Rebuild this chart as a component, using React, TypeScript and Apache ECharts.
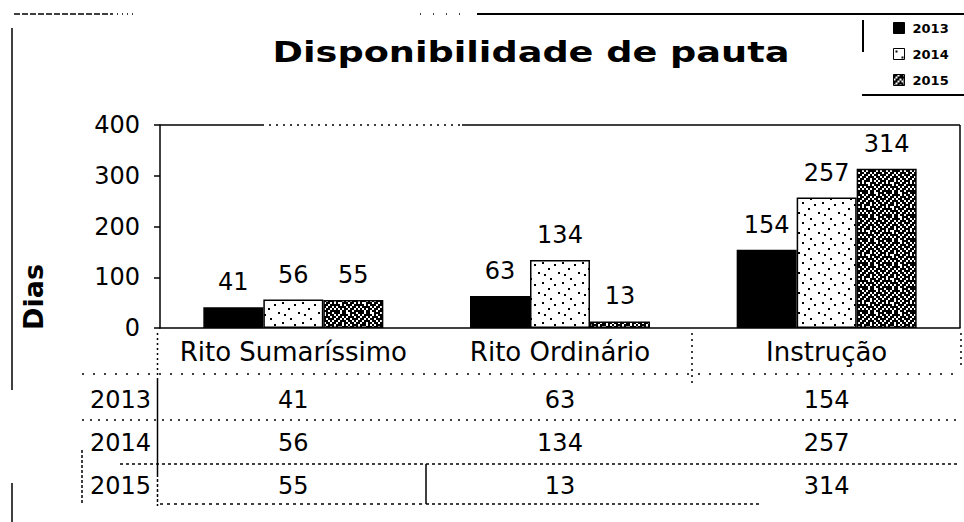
import React, { useEffect, useRef } from 'react';
import * as echarts from 'echarts';

const categories = ['Rito Sumaríssimo', 'Rito Ordinário', 'Instrução'];
const seriesNames = ['2013', '2014', '2015'];
const values2013 = [41, 63, 154];
const values2014 = [56, 134, 257];
const values2015 = [55, 13, 314];
const yTicks = [0, 100, 200, 300, 400];
const chartTitle = 'Disponibilidade de pauta';
const yAxisTitle = 'Dias';

const FONT = 'DejaVu Sans';

// texture tiles (style only)
const TILE_2014 = [
  '0000000000',
  '0100000000',
  '0000000100',
  '0000000000',
  '0000100000',
  '0000000000',
  '0000000001',
  '0010000000',
  '0000000000',
  '0000010000',
];
const TILE_2015 = [
  '110110011101',
  '101111010110',
  '011010111011',
  '110101101110',
  '101110110101',
  '011011011011',
  '111010101110',
  '100111011010',
  '110101110111',
  '011110101101',
  '101011011010',
  '110110110111',
];

function makeTile(rows: string[], cell: number) {
  const n = rows.length;
  const size = n * cell;
  const c = document.createElement('canvas');
  c.width = size;
  c.height = size;
  const ctx = c.getContext('2d') as CanvasRenderingContext2D;
  ctx.fillStyle = '#ffffff';
  ctx.fillRect(0, 0, size, size);
  ctx.fillStyle = '#000000';
  rows.forEach((r, y) =>
    r.split('').forEach((ch, x) => {
      if (ch === '1') ctx.fillRect(x * cell, y * cell, cell, cell);
    })
  );
  return { image: c.toDataURL(), repeat: 'repeat', imageWidth: size, imageHeight: size };
}

type Seg = [number, number, number, number, number[] | null, number?];

const decoLines: Seg[] = [
  // outer frame fragments
  [14, 14, 112, 14, [6, 2], 1.5],
  [112, 14, 136, 14, [1, 4], 1.5],
  [420, 14, 470, 14, [1, 12], 1.5],
  [477, 14, 964, 14, null, 2],
  [12, 28, 12, 390, null, 1.5],
  [12, 483, 12, 522, null, 1.5],
  // legend box
  [863, 20, 863, 52, null, 2],
  [862, 95, 964, 95, null, 2],
  // plot frame top / right
  [160, 125, 262, 125, null, 1.5],
  [262, 125, 462, 125, [2, 5], 1.5],
  [462, 125, 960, 125, null, 1.5],
  [960, 125, 960, 328, null, 1.5],
  // data table
  [82, 374, 960, 374, [2, 9], 1.5],
  [82, 420, 960, 420, [2, 6], 1.5],
  [120, 464, 960, 464, [3, 3], 1.5],
  [160, 504, 426, 504, [3, 4], 1.5],
  [426, 504, 760, 504, [3, 3], 1.5],
  [157.5, 333, 157.5, 378, [2, 3], 1.5],
  [157.5, 378, 157.5, 474, null, 1.5],
  [157.5, 474, 157.5, 506, [3, 2], 1.5],
  [82, 450, 82, 505, [3, 2], 1.5],
  [426, 464, 426, 504, null, 1.5],
  [692, 333, 692, 386, [2, 4], 1.5],
  [961, 333, 961, 366, [2, 4], 1.5],
];

export default function App() {
  const ref = useRef<HTMLDivElement>(null);

  useEffect(() => {
    if (!ref.current) return;
    const chart = echarts.init(ref.current, undefined, { renderer: 'svg' });

    const rows = [values2013, values2014, values2015];
    const colors: any[] = ['#000000', makeTile(TILE_2014, 2), makeTile(TILE_2015, 2)];
    const rowOffset0 = 72;
    const rowStep = 43;
    const plotBottom = 328;

    const graphics: any[] = [
      {
        type: 'text',
        x: 531,
        y: 53,
        scaleX: 1.31,
        style: {
          text: chartTitle,
          font: `bold 28px "${FONT}"`,
          fill: '#000',
          textAlign: 'center',
          textVerticalAlign: 'middle',
        },
      },
      {
        type: 'text',
        x: 33,
        y: 297,
        rotation: Math.PI / 2,
        style: {
          text: yAxisTitle,
          font: `bold 27px "${FONT}"`,
          fill: '#000',
          textAlign: 'center',
          textVerticalAlign: 'middle',
        },
      },
      ...seriesNames.map((n, i) => ({
        type: 'text',
        x: 151,
        y: plotBottom + rowOffset0 + rowStep * i,
        style: {
          text: n,
          font: `24px "${FONT}"`,
          fill: '#000',
          textAlign: 'right',
          textVerticalAlign: 'middle',
        },
      })),
      ...decoLines.map(([x1, y1, x2, y2, dash, w]) => ({
        type: 'line',
        shape: { x1, y1, x2, y2 },
        style: { stroke: '#000', lineWidth: w ?? 1.5, lineDash: dash ?? undefined },
        silent: true,
      })),
    ];

    const option: any = {
      animation: false,
      backgroundColor: '#ffffff',
      textStyle: { fontFamily: FONT, color: '#000' },
      grid: { left: 160, right: 4, top: 125, bottom: 522 - plotBottom, containLabel: false },
      legend: {
        data: seriesNames,
        orient: 'vertical',
        left: 893,
        top: 21,
        padding: 0,
        itemWidth: 11,
        itemHeight: 11,
        itemGap: 12,
        icon: 'rect',
        itemStyle: { borderColor: '#000', borderWidth: 1 },
        textStyle: {
          fontFamily: FONT,
          fontSize: 13,
          fontWeight: 'bold',
          lineHeight: 14,
          color: '#000',
          padding: [0, 0, 0, 3],
        },
      },
      xAxis: [
        {
          type: 'category',
          data: categories,
          axisLine: { show: true, lineStyle: { color: '#000', width: 1.5 } },
          axisTick: { show: false },
          splitLine: { show: false },
          axisLabel: {
            interval: 0,
            fontSize: 26,
            fontFamily: FONT,
            color: '#000',
            margin: 24,
            verticalAlign: 'middle',
          },
        },
        ...rows.map((vals, i) => ({
          type: 'category',
          data: vals.map(String),
          position: 'bottom',
          offset: rowOffset0 + rowStep * i,
          axisLine: { show: false },
          axisTick: { show: false },
          splitLine: { show: false },
          axisLabel: {
            interval: 0,
            fontSize: 24,
            fontFamily: FONT,
            color: '#000',
            margin: 0,
            verticalAlign: 'middle',
          },
        })),
      ],
      yAxis: {
        type: 'value',
        min: yTicks[0],
        max: yTicks[yTicks.length - 1],
        interval: yTicks[1] - yTicks[0],
        axisLine: { show: true, lineStyle: { color: '#000', width: 1.5 } },
        axisTick: { show: true, length: 6, lineStyle: { color: '#000', width: 1.5 } },
        splitLine: { show: false },
        axisLabel: { fontSize: 24, fontFamily: FONT, color: '#000', margin: 20 },
      },
      series: rows.map((vals, i) => ({
        type: 'bar',
        name: seriesNames[i],
        data: vals,
        xAxisIndex: 0,
        barWidth: 60,
        barGap: '0%',
        itemStyle: { color: colors[i], borderColor: '#000', borderWidth: 1.5 },
        label: {
          show: true,
          position: 'top',
          distance: 13,
          fontSize: 24,
          fontFamily: FONT,
          color: '#000',
        },
      })),
      graphic: graphics,
    };

    chart.setOption(option);
    return () => chart.dispose();
  }, []);

  return (
    <div
      ref={ref}
      style={{ position: 'fixed', left: 0, top: 0, width: 964, height: 522, background: '#fff' }}
    />
  );
}
